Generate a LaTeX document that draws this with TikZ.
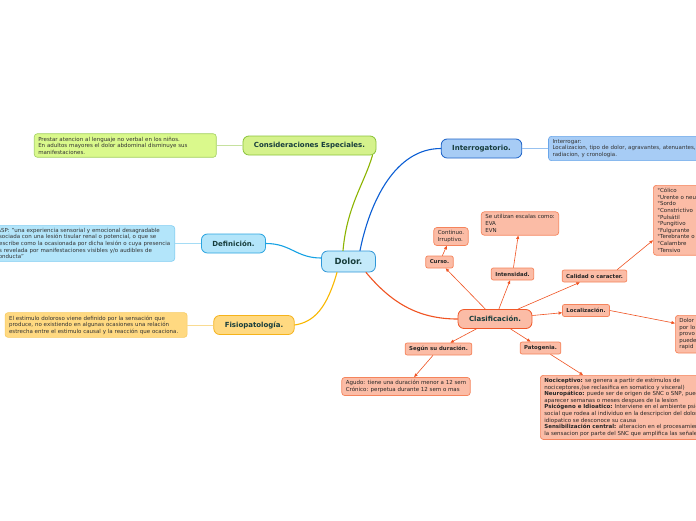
\documentclass[tikz,border=0pt]{standalone}
\usepackage{fontspec}
\setmainfont{DejaVu Sans}
\usepackage{xcolor}
\usetikzlibrary{shapes,arrows.meta,positioning}

\definecolor{topictext}{HTML}{173D3C}
\definecolor{notetext}{HTML}{333333}
\definecolor{rootfill}{HTML}{C4EAFA}
\definecolor{rootline}{HTML}{2F97D8}
\definecolor{consfill}{HTML}{D5F28C}
\definecolor{consline}{HTML}{8CC43C}
\definecolor{consnote}{HTML}{DAF98C}
\definecolor{consedge}{HTML}{8CB400}
\definecolor{deffill}{HTML}{B3E5FA}
\definecolor{defline}{HTML}{2BA5E0}
\definecolor{defnote}{HTML}{7FCDF1}
\definecolor{defedge}{HTML}{16A2E4}
\definecolor{fisfill}{HTML}{FFD981}
\definecolor{fisline}{HTML}{F5B31C}
\definecolor{fisnote}{HTML}{F7CB62}
\definecolor{fisedge}{HTML}{F9B800}
\definecolor{intfill}{HTML}{A7CCF5}
\definecolor{intline}{HTML}{1F64C8}
\definecolor{intnote}{HTML}{6AA6EA}
\definecolor{intedge}{HTML}{0B5ED4}
\definecolor{clafill}{HTML}{FBBCA6}
\definecolor{claline}{HTML}{F0592A}
\definecolor{subline}{HTML}{F5845C}
\definecolor{claedge}{HTML}{F05423}

\begin{document}
\begin{tikzpicture}[x=1pt, y=-1pt, node distance=26pt,
    topic/.style={rectangle, rounded corners=6pt, draw, line width=0.8pt, text=topictext,
      font=\fontsize{7}{8}\selectfont\bfseries, minimum height=19pt, inner xsep=11pt, inner ysep=0pt},
    note/.style={rectangle, rounded corners=3pt, draw, line width=0.6pt, text=notetext,
      font=\fontsize{5.5}{6.6}\selectfont, align=left, text width=174pt, inner xsep=4pt, inner ysep=3pt},
    sublabel/.style={rectangle, rounded corners=2pt, draw=subline, fill=clafill, line width=0.7pt,
      font=\fontsize{5.4}{6}\selectfont\bfseries, text=black!85, minimum height=12pt, inner xsep=4pt, inner ysep=0pt},
    subtext/.style={rectangle, rounded corners=3pt, draw=subline, fill=clafill, line width=0.7pt,
      font=\fontsize{5.5}{6.6}\selectfont, text=black!85, align=left, inner xsep=4pt, inner ysep=3pt},
    leaf/.style={draw=claedge, line width=0.6pt, -{Triangle[length=3.5pt,width=3pt]}},
    trunk/.style={line width=1.1pt, line cap=round}]

    \useasboundingbox (0,0) rectangle (696,520);
    \clip (0,0) rectangle (696,520);
    \fill[white] (0,0) rectangle (696,520);

    % main topics
    \node[topic, fill=rootfill, draw=rootline, font=\fontsize{8.5}{9}\selectfont\bfseries,
          minimum height=21pt, inner xsep=13pt] (dolor) at (348.5,261.5) {Dolor.};
    \node[topic, fill=consfill, draw=consline] (consid) at (309.5,145.5) {Consideraciones Especiales.};
    \node[topic, fill=deffill, draw=defline] (defin) at (233.5,243.5) {Definición.};
    \node[topic, fill=fisfill, draw=fisline] (fisio) at (254,325) {Fisiopatología.};
    \node[topic, fill=intfill, draw=intline] (interrog) at (481.5,148.5) {Interrogatorio.};
    \node[topic, fill=clafill, draw=claline] (clasif) at (495,319) {Clasificación.};

    % notes
    \node[note, fill=consnote, draw=consline!80, left=of consid] (considnote)
      {Prestar atencion al lenguaje no verbal en los niños.\\
       En adultos mayores el dolor abdominal disminuye sus\\
       manifestaciones.};
    \node[note, fill=deffill, draw=defnote, text width=175pt, inner ysep=2.5pt, left=of defin] (defnote)
      {IASP: "una experiencia sensorial y emocional desagradable\\
       asociada con una lesión tisular renal o potencial, o que se\\
       describe como la ocasionada por dicha lesión o cuya presencia\\
       es revelada por manifestaciones visibles y/o audibles de\\
       conducta"};
    \node[note, fill=fisfill, draw=fisnote, left=of fisio] (fisionote)
      {El estimulo doloroso viene definido por la sensación que\\
       produce, no existiendo en algunas ocasiones una relación\\
       estrecha entre el estimulo causal y la reacción que ocaciona.};
    \node[note, fill=intfill, draw=intnote, right=of interrog] (interrognote)
      {Interrogar:\\
       Localizacion, tipo de dolor, agravantes, atenuantes,\\
       radiacion, y cronologia.};

    % clasificacion
    \node[sublabel] (curso) at (439.5,262) {Curso.};
    \node[subtext] (continuo) at (451,236.5) {Continuo.\\Irruptivo.};
    \node[sublabel] (intens) at (512.5,274) {Intensidad.};
    \node[subtext] (escalas) at (520,223.5) {Se utilizan escalas como:\\EVA\\EVN};
    \node[sublabel] (calidad) at (594.5,276) {Calidad o caracter.};
    \node[subtext, anchor=north west, text width=100pt] (tipos) at (653,185)
      {°Cólico\\°Urente o neuropático\\°Sordo\\°Constrictivo\\°Pulsátil\\°Pungitivo\\°Fulgurante\\°Terebrante o lancinante\\°Calambre\\°Tensivo};
    \node[sublabel] (local) at (586,310.5) {Localización.};
    \node[subtext, anchor=north west, text width=60pt] (localtext) at (675,315)
      {Dolor\\por lo\\provo\\puede\\rapid};
    \node[sublabel] (segun) at (438.5,349) {Según su duración.};
    \node[subtext] (duracion) at (406,386.5)
      {Agudo: tiene una duración menor a 12 sem\\Crónico: perpetua durante 12 sem o mas};
    \node[sublabel] (pato) at (540.5,348) {Patogenia.};
    \node[subtext, anchor=north west] (patotext) at (540,375)
      {\textbf{Nociceptivo:} se genera a partir de estimulos de\\
       nociceptores,(se reclasifica en somatico y visceral)\\
       \textbf{Neuropático:} puede ser de origen de SNC o SNP, puede\\
       aparecer semanas o meses despues de la lesion\\
       \textbf{Psicógeno e Idioatico:} Interviene en el ambiente psicológico y\\
       social que rodea al individuo en la descripcion del dolor,\\
       idiopatico se desconoce su causa\\
       \textbf{Sensibilización central:} alteracion en el procesamiento de\\
       la sensacion por parte del SNC que amplifica las señales};

    % branches from the root
    \draw[trunk, consedge] ([xshift=-5.5pt]dolor.north) .. controls +(4,-45) and +(-8,28) .. ([xshift=-4pt]consid.south east);
    \draw[trunk, intedge] ([xshift=11.5pt]dolor.north) .. controls +(10,-50) and +(-45,0) .. (interrog.west);
    \draw[trunk, defedge] ([yshift=3.5pt]dolor.west) .. controls +(-25,0) and +(25,0) .. (defin.east);
    \draw[trunk, fisedge] ([xshift=-11.5pt]dolor.south) .. controls +(-10,35) and +(20,-3) .. (fisio.east);
    \draw[trunk, claedge] ([xshift=17.5pt]dolor.south) .. controls +(25,30) and +(-40,0) .. (clasif.west);

    % note links
    \draw[line width=1pt, consline!50] (consid) -- (considnote);
    \draw[line width=1pt, defnote!70] (defin) -- (defnote);
    \draw[line width=1pt, fisnote!70] (fisio) -- (fisionote);
    \draw[line width=1pt, intnote!70] (interrog) -- (interrognote);

    % clasificacion links
    \draw[leaf] (clasif) -- (curso);
    \draw[leaf] (curso) -- (continuo);
    \draw[leaf] (clasif) -- (intens);
    \draw[leaf] (intens) -- (escalas);
    \draw[leaf] (clasif) -- (calidad);
    \draw[leaf] ([xshift=-10pt]calidad.north east) -- ([yshift=-20pt]tipos.west);
    \draw[leaf] (clasif) -- (local);
    \draw[leaf] (local.east) -- ([yshift=11pt]localtext.west);
    \draw[leaf] (clasif) -- (segun);
    \draw[leaf] (segun) -- (duracion);
    \draw[leaf] (clasif) -- (pato);
    \draw[leaf] (pato) -- ([xshift=43pt]patotext.north west);
\end{tikzpicture}
\end{document}
